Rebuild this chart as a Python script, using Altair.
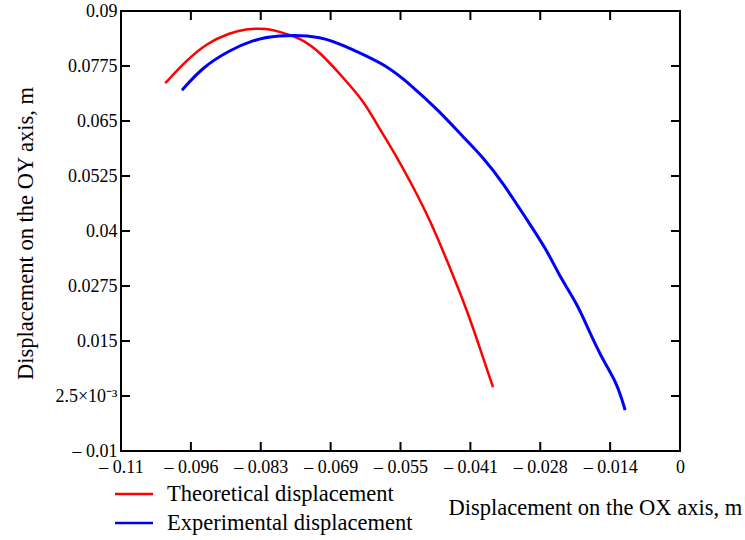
import altair as alt
import pandas as pd

# ---- data ----
red_x = [-0.1013, -0.0970, -0.0931, -0.0886, -0.0856, -0.0813, -0.0781, -0.0748,
         -0.0708, -0.0659, -0.0624, -0.0590, -0.0557, -0.0525, -0.0492, -0.0453,
         -0.0419, -0.0388, -0.0368]
red_y = [0.0736, 0.0789, 0.0827, 0.0850, 0.0859, 0.0861, 0.0850, 0.0839,
         0.0807, 0.0743, 0.0698, 0.0630, 0.0568, 0.0500, 0.0425, 0.0318,
         0.0220, 0.0114, 0.0045]

blue_x = [-0.0980, -0.0939, -0.0886, -0.0840, -0.0797, -0.0704, -0.0643, -0.0577,
          -0.0525, -0.0476, -0.0427, -0.0388, -0.0348, -0.0301, -0.0262, -0.0236,
          -0.0203, -0.0177, -0.0152, -0.0124, -0.0108]
blue_y = [0.0720, 0.0773, 0.0811, 0.0834, 0.0845, 0.0845, 0.0811, 0.0777,
          0.0727, 0.0675, 0.0614, 0.0568, 0.0509, 0.0425, 0.0357, 0.0295,
          0.0236, 0.0168, 0.0107, 0.0055, -0.0007]

series_names = ["Theoretical displacement", "Experimental displacement"]
series_colors = ["#ff0000", "#0000ff"]

x_ticks = [-0.11, -0.09625, -0.0825, -0.06875, -0.055, -0.04125, -0.0275, -0.01375, 0.0]
x_labels = ["\u2013 0.11", "\u2013 0.096", "\u2013 0.083", "\u2013 0.069", "\u2013 0.055",
            "\u2013 0.041", "\u2013 0.028", "\u2013 0.014", "0"]
y_ticks = [-0.01, 0.0025, 0.015, 0.0275, 0.04, 0.0525, 0.065, 0.0775, 0.09]
y_labels = ["\u2013 0.01", "2.5\u00d710\u207b\u00b3", "0.015", "0.0275", "0.04",
            "0.0525", "0.065", "0.0775", "0.09"]

x_title = "Displacement on the OX axis, m"
y_title = "Displacement on the OY axis, m"

FONT = "Liberation Serif"
W, H = 559, 440
TFS = 22.5


def label_expr(vals, labs):
    expr = "''"
    for v, l in reversed(list(zip(vals, labs))):
        expr = f"abs(datum.value - ({v})) < 1e-7 ? '{l}' : ({expr})"
    return expr


rows = []
for name, xs, ys in [(series_names[0], red_x, red_y), (series_names[1], blue_x, blue_y)]:
    for i, (a, b) in enumerate(zip(xs, ys)):
        rows.append({"series": name, "x": a, "y": b, "i": i})
df = pd.DataFrame(rows)

xscale = alt.Scale(domain=[-0.11, 0.0], nice=False, zero=False)
yscale = alt.Scale(domain=[-0.01, 0.09], nice=False, zero=False)
cscale = alt.Scale(domain=series_names, range=series_colors)

x_axis = alt.Axis(values=x_ticks, labelExpr=label_expr(x_ticks, x_labels), grid=False,
                  domain=False, ticks=False, tickSize=0, labelFont=FONT, labelFontSize=18,
                  labelColor="#000", labelPadding=7, labelBaseline="top", labelFlush=False,
                  title=x_title, titleFont=FONT, titleFontSize=TFS, titleFontWeight="normal",
                  titleColor="#000", titleX=327, titleY=56, titleAlign="left",
                  titleBaseline="middle", labelOverlap=False)
y_axis = alt.Axis(values=y_ticks, labelExpr=label_expr(y_ticks, y_labels), grid=False,
                  domain=False, ticks=False, tickSize=0, labelFont=FONT, labelFontSize=18,
                  labelColor="#000", labelPadding=4, labelBaseline="middle", labelFlush=False,
                  title=y_title, titleFont=FONT, titleFontSize=TFS, titleFontWeight="normal",
                  titleColor="#000", titleAngle=270, titleX=-96, titleY=222,
                  titleAlign="center", titleBaseline="middle", labelOverlap=False)

red_line = alt.Chart(df[df.series == series_names[0]]).mark_line(
    strokeWidth=2.5, interpolate="basis").encode(
    x=alt.X("x:Q", scale=xscale, axis=x_axis),
    y=alt.Y("y:Q", scale=yscale, axis=y_axis),
    color=alt.Color("series:N", scale=cscale, legend=None),
    order="i:Q",
)
blue_line = alt.Chart(df[df.series == series_names[1]]).mark_line(
    strokeWidth=3, interpolate="basis").encode(
    x=alt.X("x:Q", scale=xscale),
    y=alt.Y("y:Q", scale=yscale),
    color=alt.Color("series:N", scale=cscale, legend=None),
    order="i:Q",
)

xt = pd.DataFrame({"v": x_ticks[1:-1]})
yt = pd.DataFrame({"v": y_ticks[1:-1]})
TL = 9
tick_style = dict(color="#000", size=TL, thickness=2, opacity=1)
tick_bottom = alt.Chart(xt).mark_tick(orient="vertical", **tick_style).encode(
    x=alt.X("v:Q", scale=xscale), y=alt.value(H - TL / 2))
tick_top = alt.Chart(xt).mark_tick(orient="vertical", **tick_style).encode(
    x=alt.X("v:Q", scale=xscale), y=alt.value(TL / 2))
tick_left = alt.Chart(yt).mark_tick(orient="horizontal", **tick_style).encode(
    y=alt.Y("v:Q", scale=yscale), x=alt.value(TL / 2))
tick_right = alt.Chart(yt).mark_tick(orient="horizontal", **tick_style).encode(
    y=alt.Y("v:Q", scale=yscale), x=alt.value(W - TL / 2))

legend_layers = []
for k, (name, col) in enumerate(zip(series_names, series_colors)):
    ly = 483 + 29 * k
    ldf = pd.DataFrame({"label": [name]})
    legend_layers.append(alt.Chart(ldf).mark_rule(color=col, strokeWidth=2.5).encode(
        x=alt.value(-6), x2=alt.value(32), y=alt.value(ly)))
    legend_layers.append(alt.Chart(ldf).mark_text(
        font=FONT, fontSize=TFS, color="#000", align="left", baseline="middle").encode(
        text="label:N", x=alt.value(46), y=alt.value(ly)))

chart = alt.layer(red_line, blue_line, tick_bottom, tick_top, tick_left, tick_right,
                  *legend_layers).properties(
    width=W, height=H,
    padding={"left": 121, "top": 11, "right": 65, "bottom": 89},
    autosize=alt.AutoSizeParams(type="none"),
    background="#ffffff",
).configure_view(stroke="#000", strokeWidth=2)

chart.save("out.html", embed_options={"renderer": "svg", "actions": False})
